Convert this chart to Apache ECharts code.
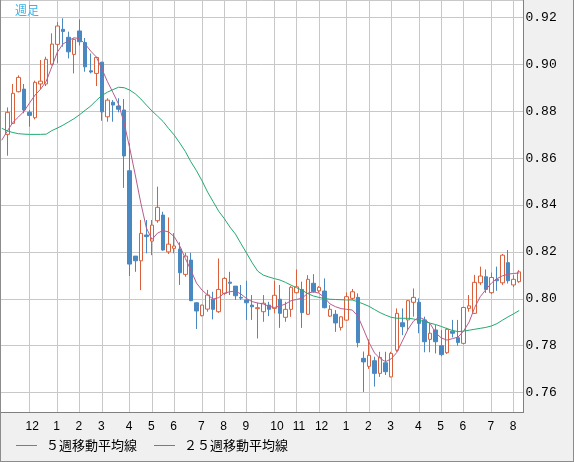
<!DOCTYPE html>
<html>
<head>
<meta charset="utf-8">
<script src="https://cdn.jsdelivr.net/npm/echarts@6.0.0/dist/echarts.min.js"></script>
<style>
  html, body { margin: 0; padding: 0; background: #f0f0f0; }
  #chart { position: absolute; left: 0; top: 0; width: 574px; height: 462px; }
  #frame { position: absolute; left: 0; top: 0; width: 574px; height: 462px; box-sizing: border-box;
           border: 1px solid #8c8c8c; border-top: 0; pointer-events: none; }
</style>
</head>
<body>
<div id="chart"></div>
<div id="frame"></div>
<script>
// weekly candles, oldest first (week 0 .. 92)
const weekOpen = [
  0.8701, 0.8748, 0.8883, 0.8894, 0.8795, 0.8772, 0.8916, 0.8916, 0.9000, 0.9085,
  0.9149, 0.9115, 0.9042, 0.9142, 0.9093, 0.8972, 0.8961, 0.9009, 0.8776, 0.8838,
  0.8822, 0.8805, 0.8546, 0.8182, 0.8162, 0.8272, 0.8246, 0.8333, 0.8357, 0.8200,
  0.8215, 0.8212, 0.8104, 0.8165, 0.7983, 0.7928, 0.7956, 0.7998, 0.7945, 0.8023,
  0.8071, 0.8054, 0.8006, 0.7995, 0.7973, 0.7958, 0.7945, 0.7973, 0.7959, 0.7998,
  0.7921, 0.7955, 0.8026, 0.8040, 0.7934, 0.8066, 0.8034, 0.8033, 0.7926, 0.7934,
  0.7878, 0.7909, 0.8002, 0.8006, 0.7746, 0.7712, 0.7736, 0.7682, 0.7727, 0.7667,
  0.7781, 0.7898, 0.7910, 0.7985, 0.7985, 0.7910, 0.7827, 0.7867, 0.7800, 0.7770,
  0.7862, 0.7834, 0.7810, 0.7959, 0.7938, 0.8068, 0.8094, 0.8026, 0.8083, 0.8068,
  0.8154, 0.8059, 0.8073
];
const weekClose = [
  0.8795, 0.8876, 0.8944, 0.8805, 0.8782, 0.8923, 0.8928, 0.9021, 0.9086, 0.9163,
  0.9140, 0.9053, 0.9106, 0.9096, 0.8989, 0.8967, 0.9029, 0.8797, 0.8847, 0.8826,
  0.8808, 0.8609, 0.8148, 0.8162, 0.8279, 0.8265, 0.8314, 0.8390, 0.8208, 0.8233,
  0.8225, 0.8111, 0.8182, 0.7992, 0.7948, 0.7973, 0.8016, 0.7955, 0.8040, 0.8087,
  0.8066, 0.8013, 0.8003, 0.7983, 0.7966, 0.7962, 0.7981, 0.7955, 0.8015, 0.7938,
  0.7955, 0.8049, 0.8051, 0.7941, 0.8083, 0.8030, 0.8049, 0.7962, 0.7955, 0.7897,
  0.7923, 0.8009, 0.8030, 0.7813, 0.7731, 0.7759, 0.7682, 0.7750, 0.7689, 0.7767,
  0.7938, 0.7881, 0.7992, 0.8006, 0.7895, 0.7817, 0.7853, 0.7817, 0.7762, 0.7870,
  0.7853, 0.7814, 0.7963, 0.7970, 0.8070, 0.8097, 0.8040, 0.8091, 0.8077, 0.8186,
  0.8077, 0.8083, 0.8115
];
const weekLow = [
  0.8610, 0.8745, 0.8880, 0.8791, 0.8734, 0.8765, 0.8894, 0.8907, 0.8995, 0.9004,
  0.9075, 0.9025, 0.8961, 0.9080, 0.8968, 0.8961, 0.8907, 0.8759, 0.8755, 0.8755,
  0.8795, 0.8473, 0.8097, 0.8115, 0.8037, 0.8194, 0.8186, 0.8324, 0.8205, 0.8191,
  0.8194, 0.8059, 0.8094, 0.7990, 0.7871, 0.7925, 0.7945, 0.7912, 0.7940, 0.8017,
  0.8016, 0.7995, 0.7995, 0.7910, 0.7910, 0.7831, 0.7902, 0.7926, 0.7938, 0.7876,
  0.7902, 0.7923, 0.8023, 0.7876, 0.7931, 0.8026, 0.8026, 0.7959, 0.7923, 0.7859,
  0.7865, 0.7907, 0.7995, 0.7793, 0.7603, 0.7701, 0.7626, 0.7667, 0.7675, 0.7665,
  0.7774, 0.7845, 0.7867, 0.7924, 0.7853, 0.7772, 0.7772, 0.7767, 0.7755, 0.7765,
  0.7835, 0.7800, 0.7806, 0.7945, 0.7935, 0.8059, 0.8025, 0.8020, 0.8034, 0.8059,
  0.8065, 0.8050, 0.8068
];
const weekHigh = [
  0.8816, 0.8916, 0.8953, 0.8916, 0.8805, 0.8930, 0.9018, 0.9032, 0.9132, 0.9180,
  0.9196, 0.9139, 0.9110, 0.9191, 0.9112, 0.9046, 0.9032, 0.9010, 0.8855, 0.8847,
  0.8855, 0.8852, 0.8663, 0.8182, 0.8336, 0.8336, 0.8336, 0.8478, 0.8371, 0.8347,
  0.8280, 0.8241, 0.8196, 0.8196, 0.7985, 0.7975, 0.8038, 0.8030, 0.8172, 0.8093,
  0.8115, 0.8054, 0.8059, 0.8077, 0.8016, 0.7983, 0.8016, 0.7987, 0.8077, 0.8059,
  0.7987, 0.8054, 0.8125, 0.8073, 0.8101, 0.8105, 0.8054, 0.8087, 0.7973, 0.7952,
  0.7925, 0.8027, 0.8042, 0.8023, 0.7775, 0.7827, 0.7753, 0.7774, 0.7774, 0.7774,
  0.7959, 0.7959, 0.7995, 0.8044, 0.8002, 0.7924, 0.7895, 0.7888, 0.7867, 0.7876,
  0.7910, 0.7910, 0.7966, 0.8016, 0.8102, 0.8137, 0.8125, 0.8112, 0.8137, 0.8191,
  0.8208, 0.8101, 0.8122
];

// moving averages, starting one week before week 0
const ma5 = [
  0.8676, 0.8715, 0.8752, 0.8775, 0.8799, 0.8835, 0.8869, 0.8894, 0.8928, 0.8989,
  0.9052, 0.9086, 0.9101, 0.9113, 0.9109, 0.9086, 0.9056, 0.9031, 0.8980, 0.8926,
  0.8879, 0.8830, 0.8749, 0.8643, 0.8528, 0.8408, 0.8302, 0.8253, 0.8280, 0.8291,
  0.8285, 0.8265, 0.8225, 0.8172, 0.8122, 0.8067, 0.8037, 0.8016, 0.7999, 0.8005,
  0.8024, 0.8030, 0.8033, 0.8020, 0.8001, 0.7988, 0.7982, 0.7978, 0.7968, 0.7963,
  0.7969, 0.7978, 0.7992, 0.7997, 0.8003, 0.8024, 0.8030, 0.8024, 0.8005, 0.7978,
  0.7966, 0.7958, 0.7955, 0.7952, 0.7926, 0.7871, 0.7814, 0.7769, 0.7745, 0.7732,
  0.7744, 0.7771, 0.7820, 0.7869, 0.7905, 0.7922, 0.7911, 0.7894, 0.7854, 0.7833,
  0.7824, 0.7830, 0.7837, 0.7862, 0.7901, 0.7963, 0.8009, 0.8039, 0.8067, 0.8086,
  0.8098, 0.8105, 0.8108, 0.8110
];
const ma25 = [
  0.8727, 0.8716, 0.8709, 0.8704, 0.8702, 0.8701, 0.8701, 0.8701, 0.8702, 0.8717,
  0.8728, 0.8740, 0.8754, 0.8768, 0.8785, 0.8804, 0.8822, 0.8846, 0.8867, 0.8881,
  0.8892, 0.8902, 0.8900, 0.8890, 0.8874, 0.8852, 0.8826, 0.8801, 0.8779, 0.8756,
  0.8726, 0.8698, 0.8664, 0.8628, 0.8584, 0.8546, 0.8503, 0.8455, 0.8414, 0.8373,
  0.8342, 0.8306, 0.8276, 0.8235, 0.8195, 0.8154, 0.8118, 0.8101, 0.8093, 0.8086,
  0.8080, 0.8070, 0.8058, 0.8047, 0.8036, 0.8022, 0.8012, 0.8006, 0.8001, 0.7998,
  0.7997, 0.7996, 0.7995, 0.7995, 0.7987, 0.7978, 0.7968, 0.7954, 0.7941, 0.7930,
  0.7921, 0.7917, 0.7917, 0.7917, 0.7914, 0.7908, 0.7903, 0.7896, 0.7890, 0.7882,
  0.7873, 0.7865, 0.7860, 0.7862, 0.7866, 0.7870, 0.7874, 0.7878, 0.7884, 0.7894,
  0.7909, 0.7923, 0.7936, 0.7950
];

// first week of each month
const monthStartWeek = [4, 9, 13, 17, 22, 26, 30, 35, 39, 43, 48, 52, 56, 61, 65, 69, 74, 78, 82, 87, 91];
const monthLabels = ['12', '1', '2', '3', '4', '5', '6', '7', '8', '9', '10', '11', '12', '1', '2', '3', '4', '5', '6', '7', '8'];

const ma5Name = '５週移動平均線';
const ma25Name = '２５週移動平均線';

const labelShift = 0.72; // labels start a little left of the gridline

const candles = weekOpen.map((o, i) => [i, o, weekClose[i], weekLow[i], weekHigh[i]]);
const ma5Data = ma5.map((v, k) => [k - 1, v]);
const ma25Data = ma25.map((v, k) => [k - 1, v]);

const chart = echarts.init(document.getElementById('chart'), null, { renderer: 'canvas' });

chart.setOption({
  animation: false,
  title: {
    text: '週足',
    left: 15,
    top: 4,
    padding: 0,
    textStyle: { fontFamily: 'Noto Sans CJK JP', fontSize: 12, fontWeight: 'normal', color: '#3cb2e6' }
  },
  legend: {
    data: [ma5Name, ma25Name],
    icon: 'rect',
    left: 16,
    top: 439,
    padding: 0,
    itemWidth: 21,
    itemHeight: 1,
    itemGap: 17,
    selectedMode: false,
    textStyle: { fontFamily: 'Noto Sans CJK JP', fontSize: 13, color: '#000', padding: [0, 0, 0, 4] }
  },
  grid: {
    left: 0,
    top: 0,
    right: 50.5,
    bottom: 49.7,
    show: true,
    backgroundColor: '#ffffff',
    borderWidth: 0
  },
  xAxis: {
    type: 'value',
    min: -1.31,
    max: 92.77,
    axisLine: { show: true, onZero: false, lineStyle: { color: '#808080', width: 1 } },
    axisTick: { show: false, customValues: monthStartWeek },
    splitLine: { show: true, lineStyle: { color: '#c8c8c8', width: 1 } },
    axisLabel: {
      customValues: monthStartWeek.map(w => w - labelShift),
      align: 'left',
      margin: 8,
      color: '#000',
      fontFamily: 'Liberation Sans',
      fontSize: 12,
      formatter: function (v) {
        for (let k = 0; k < monthStartWeek.length; k++) {
          if (Math.abs(monthStartWeek[k] - labelShift - v) < 0.01) return monthLabels[k];
        }
        return '';
      }
    }
  },
  yAxis: {
    type: 'value',
    position: 'right',
    min: 0.7516,
    max: 0.9274,
    splitNumber: 9,
    minInterval: 0.02,
    maxInterval: 0.02,
    axisLine: { show: true, onZero: false, lineStyle: { color: '#808080', width: 1 } },
    axisTick: { show: false },
    axisLabel: {
      showMinLabel: false,
      showMaxLabel: false,
      margin: 2,
      align: 'left',
      color: '#000',
      fontFamily: 'Liberation Mono',
      fontSize: 13,
      formatter: v => v.toFixed(2)
    },
    splitLine: { show: true, lineStyle: { color: '#c8c8c8', width: 1 } }
  },
  series: [
    {
      type: 'candlestick',
      data: candles,
      encode: { x: 0, y: [1, 2, 3, 4] },
      barWidth: 4,
      silent: true,
      itemStyle: {
        color: '#ffffff',
        color0: '#4a88c2',
        borderColor: '#d9603b',
        borderColor0: '#4a88c2',
        borderWidth: 1
      },
      z: 2
    },
    {
      type: 'line',
      name: ma5Name,
      data: ma5Data,
      symbol: 'none',
      silent: true,
      lineStyle: { color: '#b85c8c', width: 1 },
      itemStyle: { color: '#b85c8c' },
      z: 3
    },
    {
      type: 'line',
      name: ma25Name,
      data: ma25Data,
      symbol: 'none',
      silent: true,
      lineStyle: { color: '#22aa70', width: 1 },
      itemStyle: { color: '#22aa70' },
      z: 3
    }
  ]
});
</script>
</body>
</html>
